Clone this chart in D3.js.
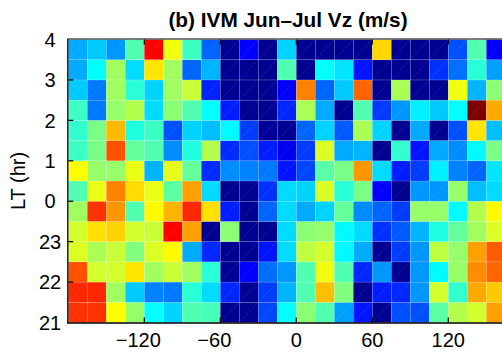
<!DOCTYPE html>
<html>
<head>
<meta charset="utf-8">
<script src="https://cdn.jsdelivr.net/npm/d3@7"></script>
<style>
  html, body { margin: 0; padding: 0; background: #fff; }
  svg { display: block; font-family: "Liberation Sans", Arial, Helvetica, sans-serif; }
</style>
</head>
<body>
<svg id="chart" width="502" height="353"></svg>
<script>
// ---- data ----
const lonStart = [-180,-165,-150,-135,-120,-105,-90,-75,-60,-45,-30,-15,0,15,30,45,60,75,90,105,120,135,150];
const lonWidth = 15;
const ltStart = [21,21.5,22,22.5,23,23.5,24,24.5,25,25.5,26,26.5,27,27.5]; // 24 = 0 LT, 28 = 4 LT
const ltWidth = 0.5;
// Vz (m/s), one row per LT bin (bottom to top), one value per longitude bin
const vz = [
  [19.6,19.6,7.5,1.3,-7.5,-10.1,-2.8,-3.4,-29,-29,-18.4,-7.5,0.7,-2.8,-13.1,-21.3,-29,-17.8,-17.8,-2.2,3.1,4.9,13.1],
  [20.2,20.2,1.9,-10.7,-14.9,-15.4,-5.1,-9.6,-20.2,-29,-19.0,-11.9,-2.8,11.3,0.1,-29,-20.8,-20.2,-13.7,4.9,-4.6,12.5,10.7],
  [17.8,4.9,4.9,9.0,1.9,4.3,1.9,-5.1,-29,-22.5,-16.0,-13.7,-2.8,6.6,-2.8,-20.2,-13.7,-29,-13.7,-7.8,1.3,14.3,16.6],
  [5.4,2.5,4.3,0.1,5.4,7.8,-12.5,-20.2,-29,-29,-21.3,-9.6,3.7,4.9,-7.8,-12.5,-29,-19.0,-13.7,3.7,1.3,13.1,17.2],
  [4.9,9.3,10.1,4.9,4.3,22.5,13.1,-29,0.7,-29,-29,-9.6,0.7,1.3,-7.8,-9.6,-19.6,-17.2,-11.9,-5.7,-1.6,1.9,5.4],
  [1.9,19.6,13.7,-2.8,7.8,11.9,20.2,9.3,-20.8,-29,-16.6,-9.6,-12.5,-10.1,-1.6,-14.3,-16.6,-19.0,1.3,1.3,-7.8,3.1,7.8],
  [-2.8,6.3,14.9,9.6,6.3,-2.2,13.1,-9.6,-29,-29,-19.6,-9.6,-10.1,5.4,-5.1,-0.4,-22.5,-29,-13.7,-13.7,1.3,-11.3,-9.6],
  [7.5,1.3,1.3,6.3,-11.9,6.0,-1.6,-20.0,-14.3,-14.9,-15.4,-21.3,-18.4,-2.2,-0.4,13.7,-9.6,-20.8,-19.0,-8.4,-14.9,-16.6,-9.0],
  [-4.0,-0.4,17.8,-1.6,-2.8,-14.3,-5.7,3.1,-20.0,-17.8,-20.8,-23.5,-19.0,5.4,-12.5,-11.9,-29,-4.6,-21.3,-12.5,-14.3,-7.8,-0.4],
  [-4.6,-0.4,11.6,-5.7,-4.0,-17.8,-10.1,-11.3,-7.8,-19.0,-28.5,-29,-16.6,-10.1,-17.2,2.5,-10.1,-29,-12.5,-29,-17.8,9.0,-11.3],
  [-4.0,-15.4,1.3,3.1,-9.6,0.7,-2.8,-7.5,-20.8,-29,-29,-20.2,2.5,-12.5,-29,-2.8,-19.0,-13.7,-8.4,-10.7,-7.5,30,12.5],
  [-10.7,-15.4,1.9,-5.1,-10.1,1.9,4.3,-20.5,-29,-29,-29,-22.5,14.9,-16.6,-10.7,16.6,-29,2.5,-29,-29,6.6,-11.9,0.7],
  [-12.5,-7.5,1.9,-9.6,9.0,1.9,-16.6,-11.9,-29,-29,-29,-2.8,-29,-7.5,-9.0,-21.3,-29,-29,-29,-19.6,-16.0,-5.1,-13.1],
  [-12.5,-10.7,-13.7,-2.8,22.5,6.6,-4.0,-16.6,-29,-22.5,-29,-10.1,-29,-29,-29,-29,9.9,-29,-29,-29,-17.8,-2.8,-22.5]
];
const xTicks = [-120,-60,0,60,120];
const yTicks = [21,22,23,24,25,26,27,28];
const yTickLabels = ["21","22","23","0","1","2","3","4"];
const colorDomain = [-30, 30];
const titleText = "(b) IVM Jun\u2013Jul Vz (m/s)";
const yLabelText = "LT (hr)";

// ---- scales ----
const mLeft = 68.3, mTop = 39.5, mBottom = 322.5, mRight = 524.3;
const x = d3.scaleLinear().domain([-180, 180]).range([mLeft, mRight]);
const y = d3.scaleLinear().domain([21, 28]).range([mBottom, mTop]);
const tScale = d3.scaleLinear().domain(colorDomain).range([0, 1]).clamp(true);
function jet(v) {
  const t = tScale(v);
  const c = u => Math.max(0, Math.min(1, u));
  const r = c(1.5 - Math.abs(4 * t - 3));
  const g = c(1.5 - Math.abs(4 * t - 2));
  const b = c(1.5 - Math.abs(4 * t - 1));
  return d3.rgb(r * 255, g * 255, b * 255).toString();
}

const svg = d3.select("#chart");
svg.append("rect").attr("width", 502).attr("height", 353).attr("fill", "#fff");

const cells = [];
ltStart.forEach((lt, i) => {
  lonStart.forEach((lon, j) => {
    cells.push({lon, lt, v: vz[i][j]});
  });
});

const gc = svg.append("g");
gc.selectAll("rect.cell").data(cells).enter().append("rect")
  .attr("class", "cell")
  .attr("x", d => x(d.lon))
  .attr("y", d => y(d.lt + ltWidth))
  .attr("width", d => x(d.lon + lonWidth) - x(d.lon))
  .attr("height", d => y(d.lt) - y(d.lt + ltWidth))
  .attr("fill", d => jet(d.v))
  .attr("stroke", "rgba(255,255,255,0.22)")
  .attr("stroke-width", 0.6);

gc.selectAll("line.diag").data(cells).enter().append("line")
  .attr("class", "diag")
  .attr("x1", d => x(d.lon)).attr("y1", d => y(d.lt))
  .attr("x2", d => x(d.lon + lonWidth)).attr("y2", d => y(d.lt + ltWidth))
  .attr("stroke", "rgba(255,255,255,0.35)")
  .attr("stroke-width", 0.5)
  .attr("stroke-dasharray", "1,1");

// ---- frame ----
svg.append("line").attr("x1", mLeft).attr("x2", 502).attr("y1", mTop - 0.5).attr("y2", mTop - 0.5)
  .attr("stroke", "#555").attr("stroke-width", 1.6);
svg.append("line").attr("x1", mLeft - 0.5).attr("x2", mLeft - 0.5).attr("y1", mTop - 1).attr("y2", mBottom + 1)
  .attr("stroke", "#000").attr("stroke-width", 1.3);
svg.append("line").attr("x1", mLeft - 1).attr("x2", 502).attr("y1", mBottom + 0.5).attr("y2", mBottom + 0.5)
  .attr("stroke", "#000").attr("stroke-width", 1.3);

// ticks (inward)
const tl = 5;
svg.selectAll("line.xtb").data(xTicks).enter().append("line")
  .attr("x1", d => x(d)).attr("x2", d => x(d)).attr("y1", mBottom).attr("y2", mBottom - tl)
  .attr("stroke", "#000").attr("stroke-width", 1.2);
svg.selectAll("line.xtt").data(xTicks).enter().append("line")
  .attr("x1", d => x(d)).attr("x2", d => x(d)).attr("y1", mTop).attr("y2", mTop + tl)
  .attr("stroke", "#000").attr("stroke-width", 1.2);
svg.selectAll("line.ytl").data(yTicks.slice(1, -1)).enter().append("line")
  .attr("x1", mLeft).attr("x2", mLeft + tl).attr("y1", d => y(d)).attr("y2", d => y(d))
  .attr("stroke", "#000").attr("stroke-width", 1.2);

// tick labels
svg.selectAll("text.xl").data(xTicks).enter().append("text")
  .attr("x", d => x(d) + (d < 0 ? -6 : 0))
  .attr("y", 347)
  .attr("text-anchor", "middle")
  .attr("font-size", 20)
  .attr("fill", "#000")
  .text(d => (d < 0 ? "\u2212" + Math.abs(d) : String(d)));

svg.selectAll("text.yl").data(yTicks).enter().append("text")
  .attr("x", 50)
  .attr("y", d => y(d) + 7.2)
  .attr("text-anchor", "middle")
  .attr("font-size", 20)
  .attr("fill", "#000")
  .text((d, i) => yTickLabels[i]);

// titles
svg.append("text")
  .attr("x", 288).attr("y", 27)
  .attr("text-anchor", "middle")
  .attr("font-size", 20.8).attr("font-weight", "bold")
  .text(titleText);

svg.append("text")
  .attr("transform", "translate(25,181) rotate(-90)")
  .attr("text-anchor", "middle")
  .attr("font-size", 20)
  .text(yLabelText);
</script>
</body>
</html>
